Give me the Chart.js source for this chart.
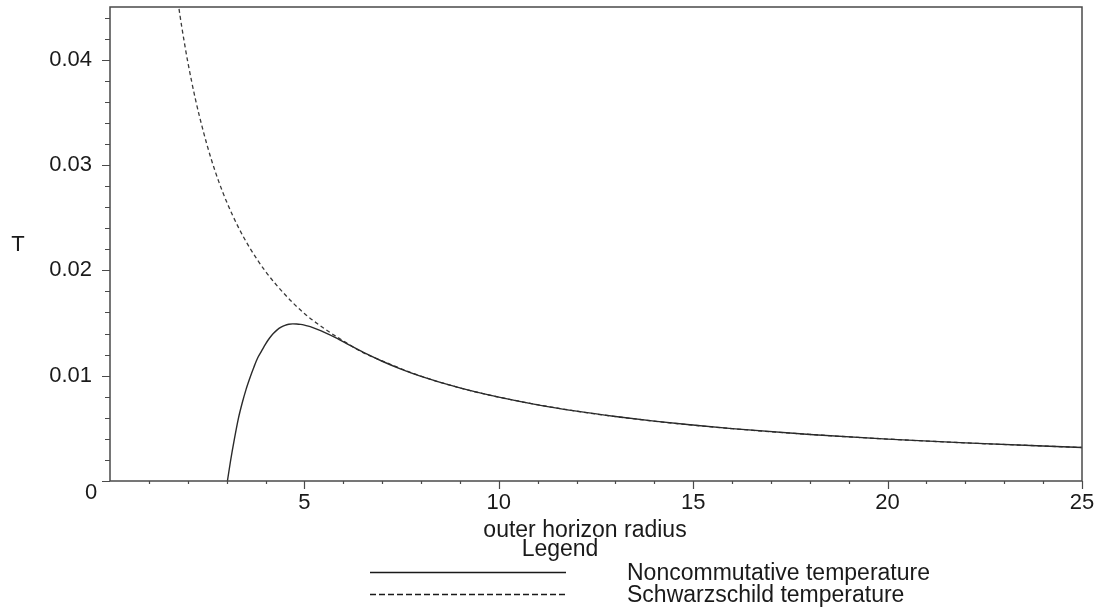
<!DOCTYPE html>
<html>
<head>
<meta charset="utf-8">
<title>Temperature vs outer horizon radius</title>
<script src="https://cdn.jsdelivr.net/npm/chart.js@4.4.1/dist/chart.umd.min.js"></script>
<style>
    html, body { margin: 0; padding: 0; background: #fff; }
    #wrap { width: 1109px; height: 608px; }
</style>
</head>
<body>
<div id="wrap"><canvas id="chart-area" width="1109" height="608"></canvas></div>
<script>
// noncommutative temperature
var ncRadius = [3.02, 3.1, 3.2, 3.3, 3.4, 3.5, 3.6, 3.7, 3.8, 3.9, 4.0, 4.1, 4.2, 4.3, 4.4, 4.5, 4.6, 4.7, 4.8, 4.9, 5.0, 5.1, 5.2, 5.35, 5.5, 5.8, 6.2, 6.6, 7, 7.5, 8, 9, 10, 11, 12, 13, 14, 15, 16, 18, 20, 22, 25];
var ncTemp = [0, 0.0019, 0.0040, 0.0059, 0.0074, 0.0087, 0.0098, 0.0108, 0.0117, 0.01235, 0.0130, 0.01355, 0.0140, 0.01435, 0.0146, 0.01478, 0.01488, 0.01492, 0.01491, 0.01487, 0.0148, 0.0147, 0.01458, 0.01437, 0.01414, 0.01362, 0.01282, 0.01206, 0.01137, 0.0106, 0.00994, 0.00884, 0.00796, 0.00723, 0.00663, 0.00612, 0.00568, 0.00531, 0.00497, 0.00442, 0.00398, 0.00362, 0.00318];

// schwarzschild temperature
var swRadius = [1.7, 1.8, 1.9, 2.0, 2.2, 2.4, 2.6, 2.8, 3.0, 3.3, 3.6, 4.0, 4.5, 5.0, 5.5, 6, 6.5, 7, 8, 9, 10, 12, 14, 16, 18, 20, 22, 25];
var swTemp = [0.0468, 0.0442, 0.0419, 0.0398, 0.0362, 0.0332, 0.0306, 0.0284, 0.0265, 0.0241, 0.0221, 0.0199, 0.0177, 0.0159, 0.0145, 0.0133, 0.0122, 0.0114, 0.00995, 0.00884, 0.00796, 0.00663, 0.00568, 0.00497, 0.00442, 0.00398, 0.00362, 0.00318];

var seriesNames = ['Noncommutative temperature', 'Schwarzschild temperature'];
var xTicks = [5, 10, 15, 20, 25];
var yTicks = [0.01, 0.02, 0.03, 0.04];

var FONT = '"Liberation Sans", Arial, Helvetica, sans-serif';
var INK = '#1a1a1a';
var AXIS = '#4a4a4a';

function toPoints(xs, ys) {
    var pts = [];
    for (var i = 0; i < xs.length; i++) {
        pts.push({ x: xs[i], y: ys[i] });
    }
    return pts;
}

// box, minor ticks, and the Maple-style legend below the plot
var framePlugin = {
    id: 'frame',
    afterDraw: function (chart) {
        var ctx = chart.ctx;
        var a = chart.chartArea;
        var xs = chart.scales.x;
        var ys = chart.scales.y;
        var i, p;

        ctx.save();
        ctx.strokeStyle = AXIS;
        ctx.lineWidth = 1.5;
        ctx.strokeRect(a.left, a.top, a.right - a.left, a.bottom - a.top);

        // x ticks
        ctx.lineWidth = 1.2;
        ctx.beginPath();
        for (i = 1; i <= 25; i++) {
            p = Math.round(xs.getPixelForValue(i)) + 0.5;
            ctx.moveTo(p, a.bottom);
            ctx.lineTo(p, a.bottom + (i % 5 === 0 ? 8 : 3));
        }
        // y ticks
        for (i = 0; i <= 22; i++) {
            p = Math.round(ys.getPixelForValue(i * 0.002)) + 0.5;
            ctx.moveTo(a.left, p);
            ctx.lineTo(a.left - (i % 5 === 0 ? 8 : 5), p);
        }
        ctx.stroke();

        ctx.fillStyle = INK;
        ctx.font = '22px ' + FONT;
        ctx.textBaseline = 'middle';
        ctx.textAlign = 'center';
        ctx.fillText('0', 91, 493);
        ctx.fillText('T', 18, 245);

        ctx.font = '23px ' + FONT;
        ctx.textBaseline = 'alphabetic';
        ctx.fillText('outer horizon radius', 585, 537);
        ctx.fillText('Legend', 560, 556);

        // legend lines
        ctx.strokeStyle = INK;
        ctx.lineWidth = 1.4;
        ctx.beginPath();
        ctx.moveTo(370, 572.5);
        ctx.lineTo(566, 572.5);
        ctx.stroke();
        ctx.setLineDash([6, 3]);
        ctx.beginPath();
        ctx.moveTo(370, 594.5);
        ctx.lineTo(566, 594.5);
        ctx.stroke();
        ctx.setLineDash([]);

        ctx.textAlign = 'left';
        ctx.fillText(seriesNames[0], 627, 580);
        ctx.fillText(seriesNames[1], 627, 602);
        ctx.restore();
    }
};

var config = {
    type: 'line',
    data: {
        datasets: [{
            label: seriesNames[0],
            data: toPoints(ncRadius, ncTemp),
            borderColor: '#2a2a2a',
            borderWidth: 1.4,
            pointRadius: 0,
            cubicInterpolationMode: 'monotone',
            fill: false
        }, {
            label: seriesNames[1],
            data: toPoints(swRadius, swTemp),
            borderColor: '#3a3a3a',
            borderWidth: 1.3,
            borderDash: [4, 3],
            pointRadius: 0,
            cubicInterpolationMode: 'monotone',
            fill: false
        }]
    },
    options: {
        responsive: false,
        animation: false,
        events: [],
        layout: { padding: { left: 0, top: 7, right: 27, bottom: 0 } },
        plugins: {
            legend: { display: false },
            tooltip: { enabled: false }
        },
        scales: {
            x: {
                type: 'linear',
                min: 0,
                max: 25,
                grid: { display: false, drawTicks: false },
                border: { display: false },
                afterBuildTicks: function (scale) {
                    scale.ticks = xTicks.map(function (v) { return { value: v }; });
                },
                afterFit: function (scale) {
                    scale.height = 127;
                    scale.paddingLeft = 0;
                    scale.paddingRight = 0;
                },
                ticks: {
                    padding: 9,
                    color: INK,
                    font: { family: FONT, size: 22 },
                    maxRotation: 0,
                    callback: function (v) { return String(v); }
                }
            },
            y: {
                type: 'linear',
                min: 0,
                max: 0.045,
                grid: { display: false, drawTicks: false },
                border: { display: false },
                afterBuildTicks: function (scale) {
                    scale.ticks = yTicks.map(function (v) { return { value: v }; });
                },
                afterFit: function (scale) {
                    scale.width = 110;
                    scale.paddingTop = 0;
                    scale.paddingBottom = 0;
                },
                ticks: {
                    padding: 18,
                    color: INK,
                    font: { family: FONT, size: 22 },
                    callback: function (v) { return v.toFixed(2); }
                }
            }
        }
    },
    plugins: [framePlugin]
};

window.myLine = new Chart(document.getElementById('chart-area').getContext('2d'), config);
</script>
</body>
</html>
